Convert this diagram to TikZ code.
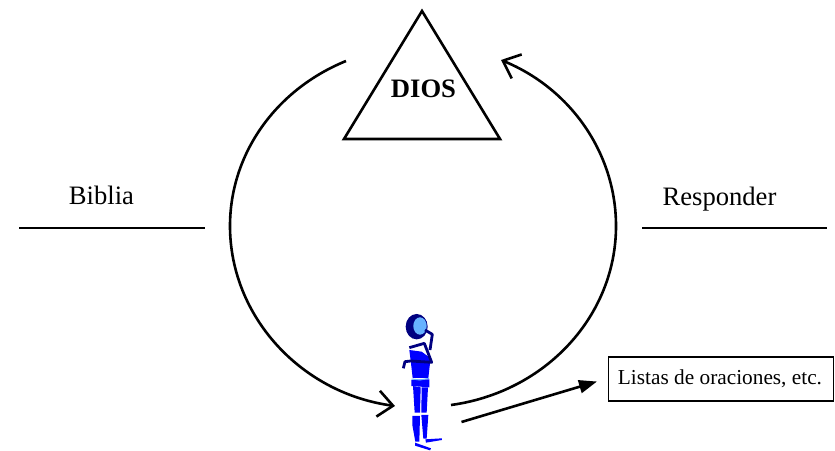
\documentclass[tikz,border=0pt]{standalone}
\usepackage{fontspec}
\setmainfont{Liberation Serif}
\usetikzlibrary{positioning,arrows.meta}
\definecolor{cBody}{HTML}{0000FF}
\definecolor{cDark}{HTML}{000080}
\definecolor{cFace}{HTML}{66B2FF}
\tikzset{
  lbl/.style={font=\fontsize{26.6}{28}\selectfont,inner sep=0pt},
  rule/.style={line width=2.6pt},
  ring/.style={line width=2.6pt,-{Straight Barb[length=15pt,width=26pt,line width=2.6pt]}},
  lista/.style={draw,line width=1.1pt,minimum width=225pt,minimum height=44pt,inner sep=0pt,
                font=\fontsize{21.3}{24}\selectfont},
  sar/.style={line width=2.6pt,-{Stealth[length=18pt,width=13pt,inset=0pt]}},
  skin/.style={fill=cBody,draw=none},
  trim/.style={draw=cDark,line width=2.8pt,line join=round},
}
\begin{document}
\begin{tikzpicture}[x=1pt,y=-1pt]
    \useasboundingbox (0,0) rectangle (835,450);
    % triangle
    \coordinate (top) at (422,11);
    \coordinate (tl) at (344,139);
    \coordinate (tr) at (500,139);
    \draw[rule,line join=miter] (top)--(tr)--(tl)--cycle;
    \node[font=\fontsize{26.6}{28}\selectfont\bfseries,inner sep=0pt] (dios) at (423.5,88.5) {DIOS};
    % side labels
    \node[lbl] (biblia) at (101.5,195) {Biblia};
    \node[lbl] (resp) at (719.5,199.5) {Responder};
    \coordinate (bl) at (19,228); \coordinate (br) at (205,228);
    \coordinate (rl) at (642,228); \coordinate (rr) at (827,228);
    \draw[rule] (bl)--(br);
    \draw[rule] (rl)--(rr);
    % big ring
    \coordinate (la) at (346,61); \coordinate (lb) at (230,226); \coordinate (lc) at (395,406);
    \coordinate (ra) at (451,405); \coordinate (rb) at (616,226); \coordinate (rc) at (501,60);
    \draw[ring] (la) .. controls (275.6,89.7) and (230,154) .. (lb)
                .. controls (230,315.8) and (300.3,393) .. (lc);
    \draw[ring] (ra) .. controls (545.7,392) and (616,315.8) .. (rb)
                .. controls (616,154) and (571.3,89) .. (rc);
    % list box
    \node[lista] (lst) at (721,379) {\hspace{-2pt}Listas de oraciones, etc.};
    \coordinate (ps) at (461.5,422);
    \coordinate (pe) at (597,381.5);
    \draw[sar] (ps)--(pe);
    % person
    \begin{scope}[shift={(380,300)},x=0.3333pt,y=-0.3333pt]
      \fill[skin] (88,150)--(125,155)--(152,175)--(150,190)--(145,234)--(98,234)--(93,190)--cycle;
      \fill[skin] (94,240)--(148,238)--(148,262)--(94,258)--cycle;
      \draw[cFace,line width=1pt] (95,237)--(120,240)--(147,235);
      \fill[skin] (99,258)--(122,262)--(120,338)--(104,338)--cycle;
      \fill[skin] (125,262)--(144,262)--(140,338)--(124,338)--cycle;
      \fill[skin] (97,348)--(120,348)--(118,425)--(106,425)--(97,375)--cycle;
      \fill[skin] (124,345)--(145,345)--(140,416)--(130,416)--cycle;
      \fill[skin] (105,428)--(153,445)--(150,451)--(105,437)--cycle;
      \fill[skin] (136,418)--(186,415)--(186,420)--(138,428)--cycle;
      \fill[white] (100,146)--(133,137)--(132,150)--cycle;
      \fill[cDark] (110,80) ellipse [x radius=11pt,y radius=12.7pt];
      \fill[cFace] (120,78) ellipse [x radius=6.7pt,y radius=8.7pt];
      \draw[trim] (135,90)--(157,103)--(150,150);
      \draw[trim] (88,143)--(133,130)--(155,187)--(92,183)--(75,185)--(70,205);
    \end{scope}
\end{tikzpicture}
\end{document}
